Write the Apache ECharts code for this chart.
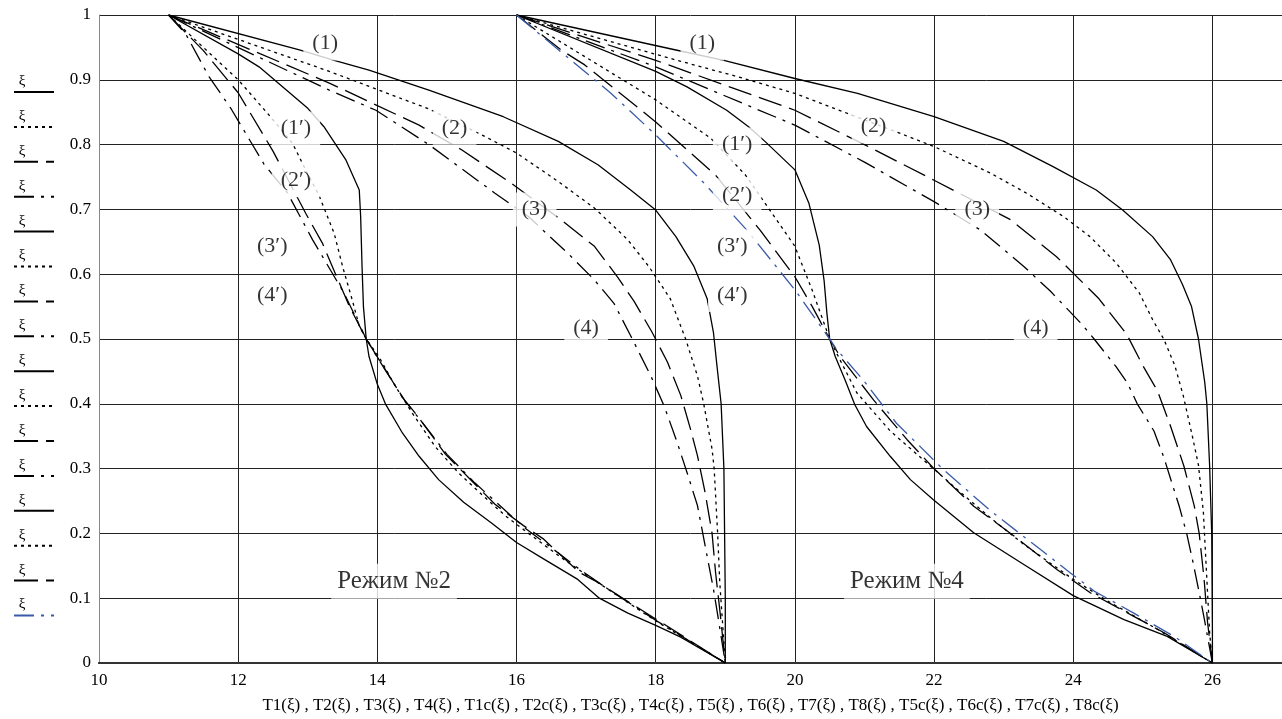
<!DOCTYPE html>
<html>
<head>
<meta charset="utf-8">
<script src="https://cdn.jsdelivr.net/npm/echarts@6/dist/echarts.min.js"></script>
<style>
  html, body { margin: 0; padding: 0; background: #fff; }
  #chart { width: 1282px; height: 719px; }
</style>
</head>
<body>
<div id="chart"></div>
<script>
// Режим №2: T1..T4 - кривые (1)-(4), T1c..T4c - кривые (1')-(4')
var T1 = [[11,1],[12.88,0.946],[13.38,0.93],[13.88,0.915],[14.74,0.884],[15.81,0.843],[16.6,0.805],[17.17,0.769],[17.64,0.73],[18.0,0.699],[18.29,0.658],[18.55,0.612],[18.74,0.562],[18.83,0.51],[18.88,0.459],[18.94,0.4],[18.98,0.3],[18.99,0.2],[19,0.1],[19,0]];
var T2 = [[11,1],[13.31,0.913],[14.74,0.855],[15.5,0.815],[16.0,0.787],[16.6,0.743],[17.12,0.702],[17.6,0.653],[17.9,0.612],[18.0,0.596],[18.21,0.562],[18.43,0.5],[18.6,0.443],[18.69,0.4],[18.81,0.33],[18.84,0.3],[18.89,0.2],[18.92,0.125],[18.97,0.047],[19,0]];
var T3 = [[11,1],[13.31,0.895],[14.6,0.83],[15.21,0.792],[15.93,0.74],[16.64,0.684],[17.12,0.643],[17.45,0.596],[17.69,0.558],[17.95,0.51],[18.17,0.464],[18.36,0.413],[18.5,0.361],[18.6,0.32],[18.71,0.263],[18.81,0.2],[18.86,0.14],[18.93,0.073],[19,0]];
var T4 = [[11,1],[13.31,0.884],[13.98,0.853],[14.74,0.8],[15.69,0.725],[16.17,0.689],[16.74,0.632],[17.12,0.591],[17.4,0.555],[17.64,0.505],[17.93,0.443],[18.12,0.397],[18.31,0.34],[18.45,0.294],[18.6,0.243],[18.71,0.181],[18.83,0.114],[18.9,0.068],[19,0]];
var T1c = [[11,1],[12.0,0.94],[12.3,0.92],[13.0,0.856],[13.23,0.828],[13.55,0.776],[13.74,0.73],[13.76,0.689],[13.78,0.612],[13.8,0.55],[13.84,0.5],[13.88,0.473],[14.0,0.43],[14.12,0.399],[14.36,0.355],[14.6,0.319],[14.88,0.283],[15.24,0.248],[15.64,0.216],[16.0,0.186],[16.4,0.16],[16.88,0.129],[17.19,0.1],[17.6,0.077],[18.0,0.058],[18.36,0.04],[19,0]];
var T2c = [[11,1],[12.0,0.9],[12.44,0.846],[12.78,0.802],[12.97,0.761],[13.16,0.722],[13.38,0.663],[13.5,0.612],[13.64,0.56],[13.74,0.52],[13.84,0.5],[14.02,0.473],[14.26,0.427],[14.5,0.386],[14.83,0.334],[15.17,0.293],[15.5,0.26],[15.83,0.228],[16.21,0.197],[16.69,0.159],[17.17,0.124],[18.0,0.065],[19,0]];
var T3c = [[11,1],[11.5,0.945],[12.0,0.88],[12.5,0.79],[12.97,0.694],[13.21,0.648],[13.4,0.6],[13.6,0.55],[13.84,0.5],[14.1,0.455],[14.36,0.41],[14.6,0.378],[14.98,0.322],[15.33,0.284],[15.69,0.245],[16.1,0.212],[16.38,0.192],[16.9,0.14],[17.19,0.123],[17.6,0.095],[18,0.068],[19,0]];
var T4c = [[11,1],[11.25,0.97],[11.58,0.905],[11.9,0.855],[12.37,0.77],[12.71,0.725],[13.07,0.653],[13.52,0.571],[13.84,0.5],[14.02,0.468],[14.4,0.404],[14.64,0.372],[15.0,0.322],[15.4,0.278],[15.74,0.245],[16.1,0.21],[16.5,0.178],[16.9,0.145],[17.33,0.113],[18,0.066],[19,0]];

// Режим №4: T5..T8 - кривые (1)-(4), T5c..T8c - кривые (1')-(4')
var T5 = [[16,1],[18.29,0.946],[18.98,0.93],[20,0.902],[20.9,0.879],[22,0.843],[23,0.805],[23.71,0.766],[24.33,0.73],[24.71,0.699],[25.14,0.658],[25.4,0.622],[25.57,0.584],[25.7,0.55],[25.8,0.5],[25.89,0.433],[25.92,0.4],[25.96,0.304],[25.99,0.2],[26,0.05],[26,0]];
var T6 = [[16,1],[18.31,0.93],[19.17,0.905],[20,0.879],[21.52,0.817],[22,0.797],[22.81,0.756],[23.33,0.725],[23.86,0.689],[24.24,0.658],[24.62,0.617],[24.95,0.571],[25.14,0.53],[25.3,0.5],[25.46,0.459],[25.58,0.413],[25.72,0.346],[25.8,0.305],[25.87,0.233],[25.91,0.15],[25.96,0.047],[26,0]];
var T7 = [[16,1],[18,0.93],[20,0.853],[21,0.8],[22,0.745],[23.1,0.684],[23.76,0.627],[24.24,0.576],[24.37,0.562],[24.77,0.507],[25.0,0.459],[25.21,0.42],[25.4,0.365],[25.59,0.304],[25.74,0.242],[25.81,0.2],[25.88,0.13],[25.93,0.063],[26,0]];
var T8 = [[16,1],[18,0.92],[20,0.83],[21,0.773],[22,0.712],[22.67,0.668],[23.29,0.612],[23.67,0.574],[24.13,0.522],[24.3,0.5],[24.61,0.458],[24.78,0.432],[24.92,0.4],[25.16,0.358],[25.3,0.318],[25.52,0.243],[25.63,0.2],[25.72,0.156],[25.8,0.114],[25.88,0.07],[26,0]];
var T5c = [[16,1],[18,0.913],[18.45,0.889],[19.02,0.853],[19.33,0.828],[19.57,0.805],[20,0.761],[20.2,0.71],[20.35,0.645],[20.42,0.59],[20.46,0.54],[20.5,0.5],[20.58,0.473],[20.72,0.437],[20.86,0.399],[21.03,0.365],[21.37,0.319],[21.66,0.283],[21.99,0.252],[22.57,0.201],[23.29,0.152],[24,0.104],[24.73,0.067],[25.35,0.041],[26,0]];
var T6c = [[16,1],[18,0.869],[18.79,0.81],[19.29,0.753],[20,0.643],[20.25,0.575],[20.5,0.5],[20.6,0.478],[20.89,0.417],[21.37,0.358],[21.99,0.3],[22.33,0.268],[22.81,0.224],[23.29,0.183],[24,0.129],[24.49,0.096],[25.21,0.052],[26,0]];
var T7c = [[16,1],[16.64,0.946],[16.98,0.923],[18,0.835],[18.86,0.753],[19.5,0.668],[20,0.596],[20.25,0.55],[20.5,0.5],[20.65,0.473],[21.13,0.406],[21.61,0.345],[21.99,0.301],[22.57,0.242],[23.1,0.2],[23.77,0.144],[24.25,0.108],[24.87,0.072],[25.3,0.047],[26,0]];
var T8c = [[16,1],[16.55,0.951],[17.36,0.879],[17.98,0.817],[18.7,0.74],[19.31,0.668],[20,0.576],[20.5,0.5],[20.6,0.484],[20.98,0.437],[21.46,0.37],[22.14,0.298],[22.81,0.235],[23.53,0.175],[23.96,0.139],[24.3,0.111],[24.87,0.077],[25.45,0.041],[26,0]];

var names = ['T1(ξ)', 'T2(ξ)', 'T3(ξ)', 'T4(ξ)', 'T1c(ξ)', 'T2c(ξ)', 'T3c(ξ)', 'T4c(ξ)',
             'T5(ξ)', 'T6(ξ)', 'T7(ξ)', 'T8(ξ)', 'T5c(ξ)', 'T6c(ξ)', 'T7c(ξ)', 'T8c(ξ)'];
var curves = [T1, T2, T3, T4, T1c, T2c, T3c, T4c, T5, T6, T7, T8, T5c, T6c, T7c, T8c];

// подписи кривых
var curveLabels = [
  [13.25, 0.956, '(1)'], [15.11, 0.826, '(2)'], [16.26, 0.70, '(3)'], [17.0, 0.517, '(4)'],
  [12.83, 0.825, '(1′)'], [12.83, 0.745, '(2′)'], [12.49, 0.643, '(3′)'], [12.49, 0.568, '(4′)'],
  [18.67, 0.956, '(1)'], [21.13, 0.828, '(2)'], [22.62, 0.70, '(3)'], [23.46, 0.517, '(4)'],
  [19.17, 0.80, '(1′)'], [19.17, 0.722, '(2′)'], [19.1, 0.643, '(3′)'], [19.1, 0.568, '(4′)']
];
var modeLabels = [[14.24, 0.126, 'Режим №2'], [21.61, 0.126, 'Режим №4']];

var xTitle = names.join(' , ');
var serif = '"Liberation Serif", "DejaVu Serif", serif';
var dashes = ['solid', [3, 4], [24, 8], [20, 7, 3, 7]];

var chart = echarts.init(document.getElementById('chart'));

var series = curves.map(function (d, i) {
  return {
    name: names[i],
    type: 'line',
    data: d,
    symbol: 'none',
    silent: true,
    animation: false,
    lineStyle: {
      color: i === 15 ? '#3a5aa8' : '#000',
      width: 1.3,
      type: dashes[i % 4]
    }
  };
});

series.push({
  type: 'scatter',
  data: curveLabels,
  symbolSize: 1,
  itemStyle: { color: 'rgba(0,0,0,0)' },
  silent: true,
  z: 10,
  label: {
    show: true,
    position: 'inside',
    formatter: function (p) { return p.data[2]; },
    fontFamily: serif,
    fontSize: 22,
    color: '#000',
    backgroundColor: '#fff',
    padding: [6, 9]
  }
});
series.push({
  type: 'scatter',
  data: modeLabels,
  symbolSize: 1,
  itemStyle: { color: 'rgba(0,0,0,0)' },
  silent: true,
  z: 10,
  label: {
    show: true,
    position: 'inside',
    formatter: function (p) { return p.data[2]; },
    fontFamily: serif,
    fontSize: 25,
    color: '#000',
    backgroundColor: '#fff',
    padding: [5, 6]
  }
});

// подписи "ξ" над образцами линий легенды
var legendTop = 92, legendStep = 34.9;
var xiTexts = names.map(function (n, i) {
  return {
    type: 'text',
    x: 22,
    y: legendTop + i * legendStep - 11,
    style: {
      text: 'ξ',
      font: '15px ' + serif,
      fill: '#000',
      textAlign: 'center',
      textVerticalAlign: 'middle'
    }
  };
});

var option = {
  animation: false,
  backgroundColor: '#fff',
  grid: { left: 99, right: -4, top: 15, bottom: 54 },
  legend: {
    data: names,
    orient: 'vertical',
    left: 13,
    top: legendTop - 4,
    padding: 0,
    itemWidth: 40,
    itemHeight: 10,
    itemGap: legendStep - 8,
    selectedMode: false,
    itemStyle: { opacity: 0 },
    formatter: function () { return ''; },
    textStyle: { fontSize: 8, lineHeight: 10 }
  },
  graphic: xiTexts,
  xAxis: [{
    type: 'value',
    min: 10,
    max: 27,
    interval: 2,
    name: xTitle,
    nameLocation: 'middle',
    nameGap: 34,
    nameTextStyle: { fontFamily: serif, fontSize: 17, color: '#000' },
    axisLine: { onZero: false, lineStyle: { color: '#333', width: 2 } },
    axisTick: { show: false },
    axisLabel: { fontFamily: serif, fontSize: 17, color: '#000', margin: 9, showMaxLabel: false },
    splitLine: { show: true, lineStyle: { color: '#222', width: 1 } }
  }, {
    type: 'value',
    position: 'top',
    min: 10,
    max: 27,
    axisLine: { show: true, lineStyle: { color: '#333', width: 2 } },
    axisTick: { show: false },
    axisLabel: { show: false },
    splitLine: { show: false }
  }],
  yAxis: {
    type: 'value',
    min: 0,
    max: 1,
    interval: 0.1,
    axisLine: { show: true, lineStyle: { color: '#888', width: 1 } },
    axisTick: { show: false },
    axisLabel: { fontFamily: serif, fontSize: 17, color: '#000', margin: 8 },
    splitLine: { show: true, lineStyle: { color: '#222', width: 1 } }
  },
  series: series
};

chart.setOption(option);
</script>
</body>
</html>
